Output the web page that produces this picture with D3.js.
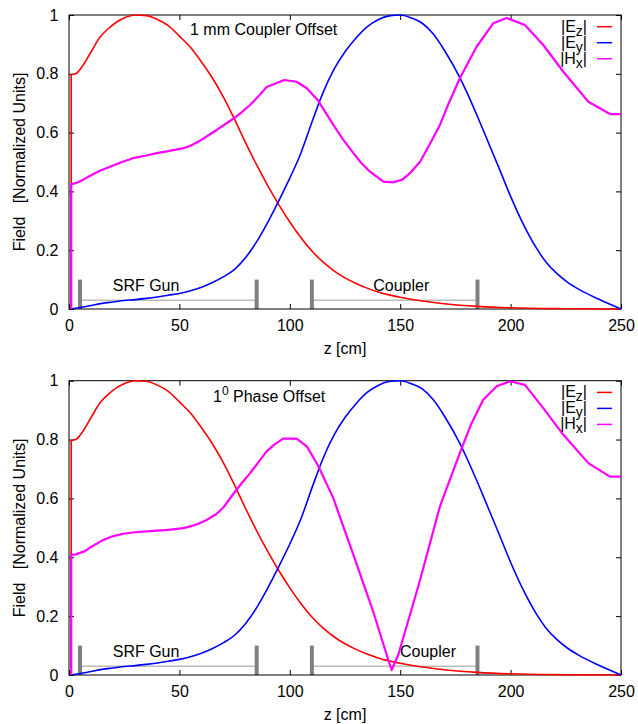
<!DOCTYPE html>
<html>
<head>
<meta charset="utf-8">
<script src="https://cdn.jsdelivr.net/npm/d3@7"></script>
<style>
  html, body { margin: 0; padding: 0; background: #fff; }
  svg { display: block; font-family: "Liberation Sans", Arial, sans-serif; }
  text { white-space: pre; }
</style>
</head>
<body>
<svg id="chart" width="638" height="724"></svg>
<script>
// ---------- data ----------
const xTicks = [0, 50, 100, 150, 200, 250];
const yTicks = [0, 0.2, 0.4, 0.6, 0.8, 1];

const seriesNames = ["|E_z|", "|E_y|", "|H_x|"];
const seriesColors = ["#ff0000", "#0000ff", "#ff00ff"];

// |Ez| (same in both panels)
const ezZ = [1, 1, 3, 6, 10, 14, 18, 22, 26, 30, 35, 40, 45, 50, 55, 60, 65, 70, 75, 80, 85, 90, 95, 100, 105, 110, 115, 120, 125, 130, 135, 140, 145, 150, 160, 170, 185, 200, 225, 250];
const ezV = [0, 0.797, 0.8, 0.825, 0.875, 0.924, 0.955, 0.978, 0.993, 1.0, 0.998, 0.985, 0.964, 0.928, 0.89, 0.84, 0.785, 0.72, 0.645, 0.565, 0.49, 0.42, 0.355, 0.296, 0.243, 0.197, 0.16, 0.13, 0.106, 0.087, 0.071, 0.058, 0.048, 0.04, 0.027, 0.018, 0.009, 0.004, 0.001, 0];

// |Ey| (same in both panels)
const eyZ = [1, 5, 10, 15, 20, 25, 30, 35, 40, 45, 50, 55, 60, 65, 70, 75, 80, 85, 90, 95, 100, 105, 110, 115, 120, 125, 130, 135, 140, 145, 150, 155, 160, 165, 170, 177, 180, 186, 190, 195, 200, 205, 211.8, 216, 220.9, 226, 231.4, 240, 250];
const eyV = [0, 0.005, 0.012, 0.019, 0.024, 0.029, 0.032, 0.036, 0.041, 0.047, 0.053, 0.062, 0.074, 0.09, 0.11, 0.135, 0.175, 0.229, 0.295, 0.368, 0.445, 0.53, 0.635, 0.735, 0.815, 0.875, 0.922, 0.96, 0.984, 0.997, 1.0, 0.99, 0.972, 0.935, 0.88, 0.787, 0.74, 0.637, 0.565, 0.475, 0.383, 0.3, 0.206, 0.16, 0.121, 0.09, 0.065, 0.033, 0];

// |Hx| top panel: 1 mm coupler offset
const hxTopZ = [1, 1, 3, 6.5, 10, 14, 18.6, 24, 29, 35, 39.7, 45, 51.8, 55, 59.3, 63, 66.9, 70, 74.4, 78, 82, 86, 89.5, 93, 97.5, 103.1, 107.7, 112.9, 119.7, 124, 128.8, 132, 136.3, 142.4, 146.9, 151, 154.4, 159, 163, 168, 172, 177, 184.6, 192.2, 198.2, 206.5, 214.8, 223.9, 235.2, 245, 250];
const hxTopV = [0, 0.425, 0.428, 0.44, 0.455, 0.47, 0.484, 0.5, 0.513, 0.522, 0.53, 0.537, 0.547, 0.555, 0.572, 0.59, 0.609, 0.625, 0.647, 0.668, 0.694, 0.725, 0.755, 0.765, 0.779, 0.773, 0.751, 0.708, 0.626, 0.578, 0.53, 0.5, 0.467, 0.433, 0.431, 0.44, 0.462, 0.501, 0.555, 0.626, 0.7, 0.785, 0.892, 0.972, 0.99, 0.966, 0.898, 0.807, 0.705, 0.663, 0.663];

// |Hx| bottom panel: 1 degree phase offset
const hxBotZ = [1, 1, 3, 7, 10, 15.5, 20, 24.6, 30, 36.7, 45, 51.8, 55, 58, 62.4, 66.9, 70, 74.4, 78, 82, 85.5, 89.5, 93, 97, 103.1, 107.7, 112.9, 119.7, 128.8, 137.8, 143.9, 146.1, 149.1, 154.4, 159, 168, 177, 182, 187.6, 193.7, 199.7, 206.5, 214.8, 223.9, 235.2, 245, 250];
const hxBotV = [0, 0.408, 0.41, 0.42, 0.435, 0.459, 0.472, 0.48, 0.485, 0.489, 0.493, 0.499, 0.505, 0.512, 0.527, 0.548, 0.57, 0.615, 0.65, 0.686, 0.72, 0.76, 0.783, 0.803, 0.803, 0.777, 0.71, 0.601, 0.408, 0.215, 0.068, 0.017, 0.068, 0.204, 0.323, 0.573, 0.754, 0.85, 0.935, 0.981, 0.998, 0.986, 0.907, 0.816, 0.72, 0.674, 0.674];

// component markers (z range in cm)
const markerNames = ["SRF Gun", "Coupler"];
const markerStart = [5, 110];
const markerEnd = [85, 185];
const markerHeight = 0.1;
const markerLineLevel = 0.03;

const panelTitles = ["1 mm Coupler Offset", "1|0| Phase Offset"];

// ---------- layout ----------
const svg = d3.select("#chart");
const FONT = 16;
const left = 69, right = 621;
const panels = [
  { top: 15, bottom: 309, hxZ: hxTopZ, hxV: hxTopV, titleX: 190, titleDy: 20, labelZ: [19.8, 137.8] },
  { top: 380.7, bottom: 675, hxZ: hxBotZ, hxV: hxBotV, titleX: 213, titleDy: 21.7, labelZ: [19.8, 149.9] }
];

const x = d3.scaleLinear().domain([0, 250]).range([left, right]);

panels.forEach((p, pi) => {
  const y = d3.scaleLinear().domain([0, 1]).range([p.bottom, p.top]);
  const g = svg.append("g");

  // markers (behind)
  markerNames.forEach((name, i) => {
    g.append("line")
      .attr("x1", x(markerStart[i])).attr("x2", x(markerEnd[i]))
      .attr("y1", y(markerLineLevel)).attr("y2", y(markerLineLevel))
      .attr("stroke", "#9a9a9a").attr("stroke-width", 1);
    [markerStart[i], markerEnd[i]].forEach(zv => {
      g.append("line")
        .attr("x1", x(zv)).attr("x2", x(zv))
        .attr("y1", y(0)).attr("y2", y(markerHeight))
        .attr("stroke", "#808080").attr("stroke-width", 4);
    });
    g.append("text")
      .attr("x", x(p.labelZ[i])).attr("y", y(0) - 18)
      .attr("font-size", FONT).attr("fill", "#000")
      .text(name);
  });

  // axes (ticks pointing inward)
  const xb = d3.axisBottom(x).tickValues(xTicks).tickSizeInner(-5).tickSizeOuter(0).tickPadding(11).tickFormat(d3.format("d"));
  const xt = d3.axisTop(x).tickValues(xTicks).tickSizeInner(-5).tickSizeOuter(0).tickFormat("");
  const yl = d3.axisLeft(y).tickValues(yTicks).tickSizeInner(-5).tickSizeOuter(0).tickPadding(10.5).tickFormat(d3.format("~g"));
  const yr = d3.axisRight(y).tickValues(yTicks).tickSizeInner(-5).tickSizeOuter(0).tickFormat("");

  const axB = g.append("g").attr("transform", `translate(0,${p.bottom})`).call(xb);
  const axT = g.append("g").attr("transform", `translate(0,${p.top})`).call(xt);
  const axL = g.append("g").attr("transform", `translate(${left},0)`).call(yl);
  const axR = g.append("g").attr("transform", `translate(${right},0)`).call(yr);
  [axB, axT, axL, axR].forEach(a => {
    a.select(".domain").remove();
    a.selectAll(".tick line").attr("stroke", "#000");
    a.selectAll("text").attr("font-size", FONT).attr("font-family", "Liberation Sans, Arial, sans-serif").attr("fill", "#000");
  });

  // frame
  g.append("rect")
    .attr("x", left).attr("y", p.top)
    .attr("width", right - left).attr("height", p.bottom - p.top)
    .attr("fill", "none").attr("stroke", "#000").attr("stroke-width", 1);

  // axis labels
  g.append("text")
    .attr("x", (left + right) / 2).attr("y", p.bottom + 45)
    .attr("text-anchor", "middle").attr("font-size", FONT)
    .text("z [cm]");
  g.append("text")
    .attr("transform", `translate(25,${(p.top + p.bottom) / 2}) rotate(-90)`)
    .attr("text-anchor", "middle").attr("font-size", FONT)
    .text("Field   [Normalized Units]");

  // curves
  const lineSmooth = d3.line().x(d => x(d[0])).y(d => y(d[1])).curve(d3.curveMonotoneX);
  const lineStraight = d3.line().x(d => x(d[0])).y(d => y(d[1]));
  const series = [
    { z: ezZ, v: ezV, w: 1.6, gen: lineStraight },
    { z: eyZ, v: eyV, w: 1.6, gen: lineStraight },
    { z: p.hxZ, v: p.hxV, w: 2.2, gen: lineStraight }
  ];
  series.forEach((s, i) => {
    const pts = s.z.map((zz, k) => [zz, s.v[k]]);
    // the vertical start segment is drawn straight; the rest smooth for E fields
    let d;
    if (i < 2) {
      const head = pts.filter(q => q[0] <= 1);
      const tail = pts.filter(q => q[0] >= 1).slice(head.length - 1);
      d = lineStraight(head.length > 1 ? head : [pts[0], pts[0]]) + lineSmooth(tail).replace(/^M/, "L");
    } else {
      d = lineStraight(pts);
    }
    g.append("path")
      .attr("d", d)
      .attr("fill", "none")
      .attr("stroke", seriesColors[i])
      .attr("stroke-width", s.w)
      .attr("stroke-linejoin", "round");
  });

  // title
  const title = panelTitles[pi];
  const tt = g.append("text")
    .attr("x", p.titleX).attr("y", p.top + p.titleDy)
    .attr("font-size", FONT);
  if (title.includes("|")) {
    const parts = title.split("|");
    tt.append("tspan").text(parts[0]);
    tt.append("tspan").attr("font-size", 12).attr("dy", -7).text(parts[1]);
    tt.append("tspan").attr("dy", 7).text(parts[2]);
  } else {
    tt.text(title);
  }

  // legend
  seriesNames.forEach((name, i) => {
    const ly = p.top + 11.7 + i * 16;
    const m = name.match(/^\|(\w)_(\w)\|$/);
    const t = g.append("text")
      .attr("x", 587).attr("y", ly + 5)
      .attr("text-anchor", "end").attr("font-size", FONT);
    t.append("tspan").text("|" + m[1]);
    t.append("tspan").attr("font-size", 14).attr("dy", 4).text(m[2]);
    t.append("tspan").attr("dy", -4).text("|");
    g.append("line")
      .attr("x1", 597).attr("x2", 612)
      .attr("y1", ly).attr("y2", ly)
      .attr("stroke", seriesColors[i]).attr("stroke-width", 1.5);
  });
});
</script>
</body>
</html>
